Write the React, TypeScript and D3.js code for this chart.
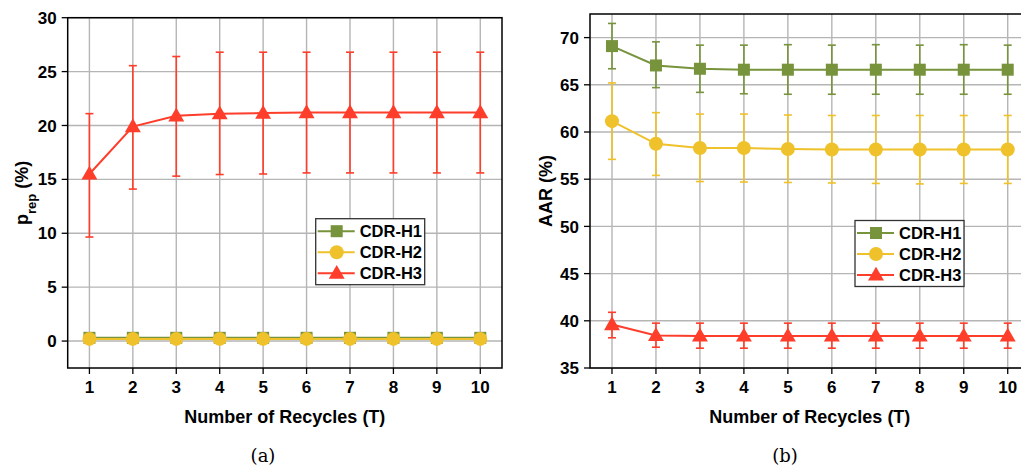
import React from 'react';
import * as d3 from 'd3';

const recycles = [1, 2, 3, 4, 5, 6, 7, 8, 9, 10];
const seriesNames = ['CDR-H1', 'CDR-H2', 'CDR-H3'];
const seriesColors = ['#77933c', '#efc12a', '#fe3d2a'];

// (a) p_rep (%)
const prepH1 = [0.3, 0.3, 0.3, 0.3, 0.3, 0.3, 0.3, 0.3, 0.3, 0.3];
const prepH1Err = [0.1, 0.1, 0.1, 0.1, 0.1, 0.1, 0.1, 0.1, 0.1, 0.1];
const prepH2 = [0.2, 0.2, 0.2, 0.2, 0.2, 0.2, 0.2, 0.2, 0.2, 0.2];
const prepH2Err = [0.1, 0.1, 0.1, 0.1, 0.1, 0.1, 0.1, 0.1, 0.1, 0.1];
const prepH3 = [15.5, 19.9, 20.9, 21.1, 21.15, 21.2, 21.2, 21.2, 21.2, 21.2];
const prepH3Low = [9.65, 14.1, 15.3, 15.45, 15.5, 15.6, 15.6, 15.6, 15.6, 15.6];
const prepH3High = [21.1, 25.55, 26.4, 26.8, 26.8, 26.8, 26.8, 26.8, 26.8, 26.8];
const prepTicks = [0, 5, 10, 15, 20, 25, 30];

// (b) AAR (%)
const aarH1 = [69.1, 67.05, 66.7, 66.6, 66.6, 66.6, 66.6, 66.6, 66.6, 66.6];
const aarH1Low = [66.7, 64.7, 64.2, 64.05, 64.0, 64.0, 64.0, 64.0, 64.0, 64.0];
const aarH1High = [71.5, 69.55, 69.2, 69.2, 69.25, 69.2, 69.25, 69.2, 69.25, 69.2];
const aarH2 = [61.15, 58.75, 58.3, 58.3, 58.2, 58.15, 58.15, 58.15, 58.15, 58.15];
const aarH2Low = [57.1, 55.4, 54.75, 54.7, 54.65, 54.6, 54.55, 54.5, 54.55, 54.55];
const aarH2High = [65.2, 62.05, 61.9, 61.9, 61.8, 61.75, 61.75, 61.75, 61.75, 61.75];
const aarH3 = [39.6, 38.45, 38.4, 38.4, 38.4, 38.4, 38.4, 38.4, 38.4, 38.4];
const aarH3Low = [38.2, 37.2, 37.1, 37.1, 37.1, 37.1, 37.1, 37.1, 37.1, 37.1];
const aarH3High = [40.9, 39.75, 39.75, 39.75, 39.75, 39.75, 39.75, 39.75, 39.75, 39.75];
const aarTicks = [35, 40, 45, 50, 55, 60, 65, 70];

interface Series {
  values: number[];
  low: number[];
  high: number[];
}

const font = "'Liberation Sans', Arial, sans-serif";
const tickFs = 17;
const titleFs = 18;
const legendFs = 16.5;

function Marker({ kind, x, y, color }: { kind: number; x: number; y: number; color: string }) {
  if (kind === 0) {
    return <rect x={x - 6} y={y - 6} width={12} height={12} fill={color} />;
  }
  if (kind === 1) {
    return <circle cx={x} cy={y} r={7} fill={color} />;
  }
  const sym = d3.symbol().type(d3.symbolTriangle).size(110)();
  return <path d={sym || ''} transform={`translate(${x},${y + 1})`} fill={color} />;
}

interface PanelProps {
  left: number;
  right: number;
  top: number;
  bottom: number;
  yDomain: [number, number];
  yTicks: number[];
  series: Series[];
  yTitle: React.ReactNode;
  yTitleX: number;
  caption: string;
  captionX: number;
  legend: { x: number; y: number };
}

function Panel(p: PanelProps) {
  const x = d3.scaleLinear().domain([0.5, 10.5]).range([p.left, p.right]);
  const y = d3.scaleLinear().domain(p.yDomain).range([p.bottom, p.top]);
  const line = d3.line<number>().x((_, i) => x(recycles[i])).y((d) => y(d));
  const cx = (p.left + p.right) / 2;
  const cy = (p.top + p.bottom) / 2;
  const cap = 4;

  return (
    <g fontFamily={font}>
      {/* grid */}
      {recycles.map((t) => (
        <line key={'gx' + t} x1={x(t)} x2={x(t)} y1={p.top} y2={p.bottom} stroke="#b5b5b5" strokeWidth={1.4} />
      ))}
      {p.yTicks.map((t) => (
        <line key={'gy' + t} x1={p.left} x2={p.right} y1={y(t)} y2={y(t)} stroke="#b5b5b5" strokeWidth={1.4} />
      ))}

      {/* series */}
      {p.series.map((s, si) => (
        <g key={'s' + si}>
          {s.values.map((v, i) => (
            <g key={'e' + i} stroke={seriesColors[si]} strokeWidth={1.6}>
              <line x1={x(recycles[i])} x2={x(recycles[i])} y1={y(s.low[i])} y2={y(s.high[i])} />
              <line x1={x(recycles[i]) - cap} x2={x(recycles[i]) + cap} y1={y(s.low[i])} y2={y(s.low[i])} />
              <line x1={x(recycles[i]) - cap} x2={x(recycles[i]) + cap} y1={y(s.high[i])} y2={y(s.high[i])} />
            </g>
          ))}
          <path d={line(s.values) || ''} fill="none" stroke={seriesColors[si]} strokeWidth={2} />
          {s.values.map((v, i) => (
            <Marker key={'m' + i} kind={si} x={x(recycles[i])} y={y(v)} color={seriesColors[si]} />
          ))}
        </g>
      ))}

      {/* frame */}
      <rect x={p.left} y={p.top} width={p.right - p.left} height={p.bottom - p.top} fill="none" stroke="#000" strokeWidth={1.5} />

      {/* y ticks */}
      {p.yTicks.map((t) => (
        <g key={'yt' + t}>
          <line x1={p.left - 6} x2={p.left} y1={y(t)} y2={y(t)} stroke="#000" strokeWidth={1.3} />
          <text x={p.left - 11} y={y(t)} dy="0.36em" textAnchor="end" fontSize={tickFs} fontWeight="bold">{t}</text>
        </g>
      ))}
      {/* x ticks */}
      {recycles.map((t) => (
        <g key={'xt' + t}>
          <line x1={x(t)} x2={x(t)} y1={p.bottom} y2={p.bottom + 6} stroke="#000" strokeWidth={1.3} />
          <text x={x(t)} y={p.bottom + 25} textAnchor="middle" fontSize={tickFs} fontWeight="bold">{t}</text>
        </g>
      ))}

      <text x={cx} y={p.bottom + 55} textAnchor="middle" fontSize={titleFs} fontWeight="bold">Number of Recycles (T)</text>
      <text transform={`translate(${p.yTitleX},${cy}) rotate(-90)`} textAnchor="middle" fontSize={titleFs} fontWeight="bold">{p.yTitle}</text>
      <text x={p.captionX} y={p.bottom + 94} textAnchor="middle" fontSize={18} fontFamily="'DejaVu Serif', 'Liberation Serif', serif">{p.caption}</text>

      {/* legend */}
      <g transform={`translate(${p.legend.x},${p.legend.y})`}>
        <rect x={0} y={0} width={109} height={66} fill="#fff" stroke="#333" strokeWidth={1.3} />
        {seriesNames.map((n, i) => (
          <g key={n} transform={`translate(0,${12.5 + i * 21})`}>
            <line x1={2} x2={39} y1={0} y2={0} stroke={seriesColors[i]} strokeWidth={2} />
            <Marker kind={i} x={21} y={0} color={seriesColors[i]} />
            <text x={44} y={0} dy="0.36em" fontSize={legendFs} fontWeight="bold">{n}</text>
          </g>
        ))}
      </g>
    </g>
  );
}

export default function App() {
  const prepSeries: Series[] = [
    { values: prepH1, low: prepH1.map((v, i) => v - prepH1Err[i]), high: prepH1.map((v, i) => v + prepH1Err[i]) },
    { values: prepH2, low: prepH2.map((v, i) => v - prepH2Err[i]), high: prepH2.map((v, i) => v + prepH2Err[i]) },
    { values: prepH3, low: prepH3Low, high: prepH3High },
  ];
  const aarSeries: Series[] = [
    { values: aarH1, low: aarH1Low, high: aarH1High },
    { values: aarH2, low: aarH2Low, high: aarH2High },
    { values: aarH3, low: aarH3Low, high: aarH3High },
  ];
  return (
    <svg width={1021} height={470} style={{ position: 'absolute', left: 0, top: 0, background: '#fff' }}>
      <Panel
        left={67.7}
        right={502}
        top={17.7}
        bottom={368}
        yDomain={[-2.5, 30]}
        yTicks={prepTicks}
        series={prepSeries}
        yTitle={<>p<tspan fontSize={13} baselineShift="sub">rep</tspan> (%)</>}
        yTitleX={28}
        caption="(a)"
        captionX={263}
        legend={{ x: 315.7, y: 218.7 }}
      />
      <Panel
        left={590}
        right={1029.7}
        top={14}
        bottom={368}
        yDomain={[35, 72.5]}
        yTicks={aarTicks}
        series={aarSeries}
        yTitle="AAR (%)"
        yTitleX={552}
        caption="(b)"
        captionX={785}
        legend={{ x: 855, y: 220.5 }}
      />
    </svg>
  );
}
